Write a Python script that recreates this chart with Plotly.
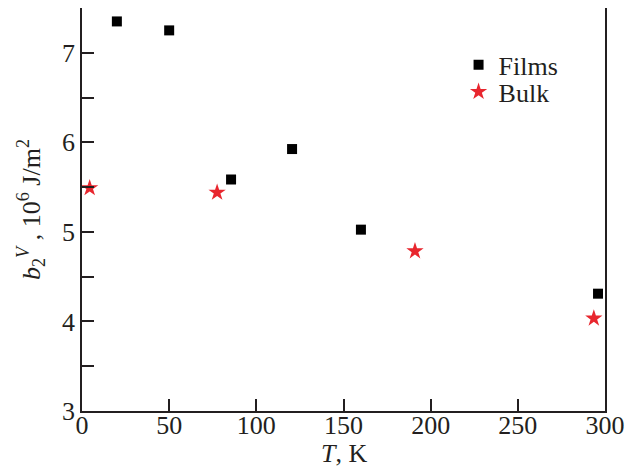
import plotly.graph_objects as go

films_T = [20, 50, 85.5, 120.5, 160, 296]
films_b = [7.35, 7.25, 5.585, 5.925, 5.025, 4.31]
bulk_T = [4.4, 77.5, 191, 293.6]
bulk_b = [5.49, 5.44, 4.785, 4.035]

x_ticks = [0, 50, 100, 150, 200, 250, 300]
y_ticks = [3, 4, 5, 6, 7]

FONT = "Liberation Serif"
INK = "#231f20"
fig = go.Figure()
fig.add_trace(go.Scatter(x=films_T, y=films_b, mode="markers", name="Films", legend="legend",
                         showlegend=True,
                         marker=dict(symbol="square", size=10, color="black")))
fig.add_trace(go.Scatter(x=bulk_T, y=bulk_b, mode="markers", name="Bulk", legend="legend2",
                         showlegend=True,
                         marker=dict(symbol="star", size=13, color="#e8262e",
                                     line=dict(width=0))))

axis_common = dict(showline=True, linecolor=INK, linewidth=1.5, mirror=True,
                   ticks="inside", ticklen=12, tickwidth=1.5, tickcolor=INK,
                   showgrid=False, zeroline=False, automargin=False,
                   tickfont=dict(family=FONT, size=26, color=INK))

fig.update_xaxes(range=[0, 300], tickvals=x_ticks, ticklabelstandoff=-10, **axis_common)
fig.update_yaxes(range=[3, 7.5], tickvals=y_ticks,
                 minor=dict(dtick=0.5, ticks="inside", ticklen=12, tickwidth=1.5, tickcolor=INK, showgrid=False),
                 title=dict(text="<i>b</i><sub>2</sub><sup><i>V</i></sup> , 10<sup>6</sup> J/m<sup>2</sup>",
                            font=dict(family=FONT, size=26, color=INK), standoff=14),
                 **axis_common)

fig.add_annotation(text="<i>T</i>, K", xref="paper", yref="paper", x=0.5, y=0,
                   xanchor="center", yanchor="middle", yshift=-42, showarrow=False,
                   font=dict(family=FONT, size=26, color=INK))

leg = dict(xanchor="left", yanchor="middle", font=dict(family=FONT, size=26, color=INK),
           bgcolor="rgba(0,0,0,0)", itemwidth=30)
fig.update_layout(width=630, height=465, margin=dict(l=74, r=33, t=0, b=62),
                  plot_bgcolor="white", paper_bgcolor="white", showlegend=True,
                  legend=dict(x=0.72, y=0.859, **leg),
                  legend2=dict(x=0.72, y=0.792, **leg))
fig.write_html("out.html")
